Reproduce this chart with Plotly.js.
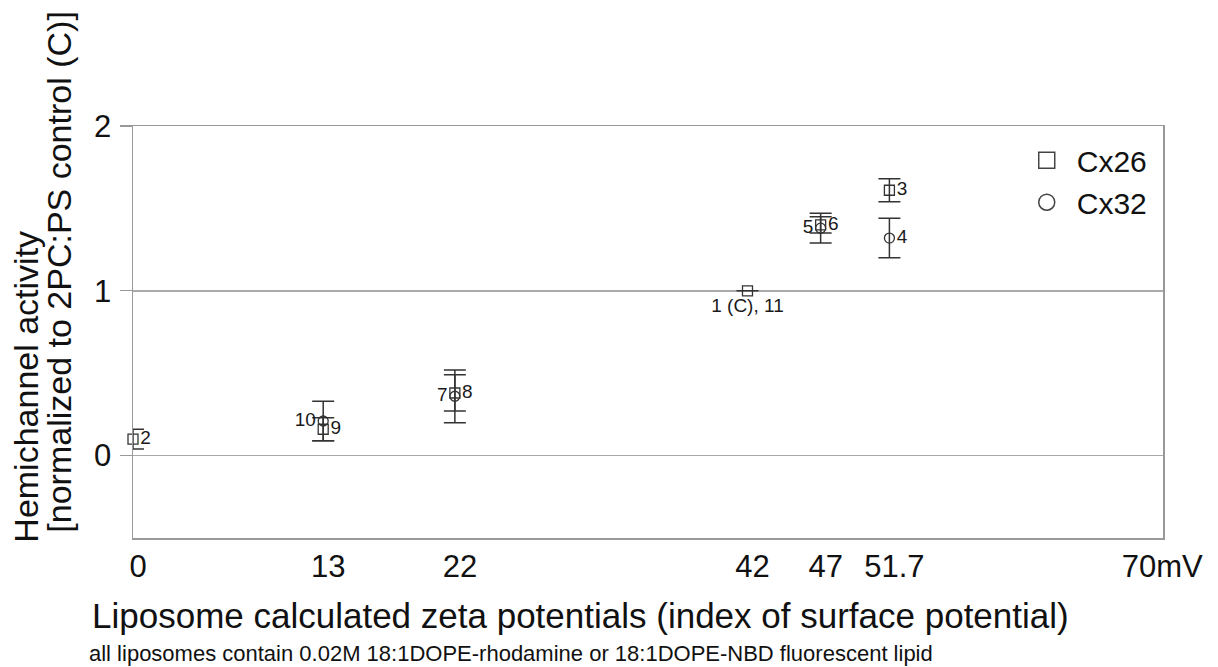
<!DOCTYPE html>
<html>
<head>
<meta charset="utf-8">
<script src="https://cdn.plot.ly/plotly-3.0.1.min.js"></script>
<style>html,body{margin:0;padding:0;background:#fff;}#chart{width:1218px;height:667px;}</style>
</head>
<body>
<div id="chart"></div>
<script>
// Zeta potential (mV) ticks
const tickValues = [0, 13, 22, 42, 47, 51.7, 70];
const tickLabels = ['0', '13', '22', '42', '47', '51.7', '70mV'];
const yTicks = [0, 1, 2];

// Cx26 (squares)
const cx26X = [0, 13, 22, 42, 47, 51.7];
const cx26Y = [0.10, 0.16, 0.38, 1.00, 1.40, 1.61];
const cx26Err = [0.06, 0.07, 0.11, 0, 0.05, 0.07];
const cx26Labels = ['2', '9', '8', '1 (C), 11', '6', '3'];
const cx26LabelPos = ['middle right', 'middle right', 'middle right', 'bottom center', 'middle right', 'middle right'];

// Cx32 (circles)
const cx32X = [13, 22, 47, 51.7];
const cx32Y = [0.21, 0.36, 1.38, 1.32];
const cx32Err = [0.12, 0.16, 0.09, 0.12];
const cx32Labels = ['10', '7', '5', '4'];
const cx32LabelPos = ['middle left', 'middle left', 'middle left', 'middle right'];

const FONT = 'Liberation Sans, Arial, Helvetica, sans-serif';
const errStyle = {type: 'data', visible: true, color: '#333', thickness: 1.5, width: 11};

const traces = [
  {
    type: 'scatter', mode: 'markers+text', name: 'Cx26', showlegend: false,
    x: cx26X, y: cx26Y, text: cx26Labels, textposition: cx26LabelPos,
    textfont: {family: FONT, size: 19, color: '#1a1a1a'},
    error_y: Object.assign({array: cx26Err}, errStyle),
    marker: {symbol: 'square-open', size: 10, color: '#333', line: {width: 1.3, color: '#333'}},
    cliponaxis: false, hoverinfo: 'x+y'
  },
  {
    type: 'scatter', mode: 'markers+text', name: 'Cx32', showlegend: false,
    x: cx32X, y: cx32Y, text: cx32Labels, textposition: cx32LabelPos,
    textfont: {family: FONT, size: 19, color: '#1a1a1a'},
    error_y: Object.assign({array: cx32Err}, errStyle),
    marker: {symbol: 'circle-open', size: 10, color: '#333', line: {width: 1.3, color: '#333'}},
    cliponaxis: false, hoverinfo: 'x+y'
  },
  // legend entries
  {
    type: 'scatter', mode: 'markers', name: 'Cx26', x: [null], y: [null],
    marker: {symbol: 'square-open', size: 24, color: '#444', line: {width: 1.5}}
  },
  {
    type: 'scatter', mode: 'markers', name: 'Cx32', x: [null], y: [null],
    marker: {symbol: 'circle-open', size: 24, color: '#444', line: {width: 1.5}}
  }
];

const layout = {
  width: 1218, height: 667,
  margin: {l: 133, r: 55, t: 126, b: 129},
  paper_bgcolor: '#fff', plot_bgcolor: '#fff',
  font: {family: FONT, color: '#111'},
  showlegend: true,
  legend: {
    x: 0.858, y: 0.98, xanchor: 'left', yanchor: 'top',
    bgcolor: 'rgba(0,0,0,0)', borderwidth: 0,
    font: {family: FONT, size: 30, color: '#111'},
    itemwidth: 50, tracegroupgap: 0
  },
  xaxis: {
    range: [0, 70.4], tickmode: 'array', tickvals: tickValues, ticktext: tickLabels,
    showgrid: false, zeroline: false, showline: true, mirror: true,
    linecolor: '#999', linewidth: 1.5, ticks: '',
    tickfont: {family: FONT, size: 31, color: '#111'},
    ticklabelstandoff: 0, ticklabelshift: 5
  },
  yaxis: {
    range: [-0.5, 2], tickmode: 'array', tickvals: yTicks,
    showgrid: true, gridcolor: '#aaa', gridwidth: 1.5, zeroline: false,
    showline: true, mirror: true, linecolor: '#999', linewidth: 1.5,
    ticks: 'outside', ticklen: 12, tickcolor: '#999', tickwidth: 1.2,
    tickfont: {family: FONT, size: 31, color: '#111'}, ticklabelstandoff: 2
  },
  yaxis2: {
    overlaying: 'y', side: 'right', range: [-0.5, 2], tickmode: 'array', tickvals: yTicks,
    showgrid: false, zeroline: false, showline: false,
    ticks: 'outside', ticklen: 12, tickcolor: '#999', tickwidth: 1.2,
    tickfont: {family: FONT, size: 31, color: '#111'}, ticklabelstandoff: 15
  },
  annotations: [
    {text: 'Hemichannel activity', xref: 'paper', yref: 'paper', x: -0.104, y: 0.367,
     textangle: -90, showarrow: false, xanchor: 'center', yanchor: 'middle',
     font: {family: FONT, size: 34, color: '#111'}},
    {text: '[normalized to 2PC:PS control (C)]', xref: 'paper', yref: 'paper', x: -0.072, y: 0.646,
     textangle: -90, showarrow: false, xanchor: 'center', yanchor: 'middle',
     font: {family: FONT, size: 34, color: '#111'}},
    {text: 'Liposome calculated zeta potentials (index of surface potential)', xref: 'paper', yref: 'paper',
     x: 0.434, y: -0.187, showarrow: false, xanchor: 'center', yanchor: 'middle',
     font: {family: FONT, size: 35, color: '#111'}},
    {text: 'all liposomes contain 0.02M 18:1DOPE-rhodamine or 18:1DOPE-NBD fluorescent lipid', xref: 'paper', yref: 'paper',
     x: 0.367, y: -0.281, showarrow: false, xanchor: 'center', yanchor: 'middle',
     font: {family: FONT, size: 22, color: '#111'}}
  ]
};

Plotly.newPlot('chart', traces, layout, {displayModeBar: false, staticPlot: true});
</script>
</body>
</html>
